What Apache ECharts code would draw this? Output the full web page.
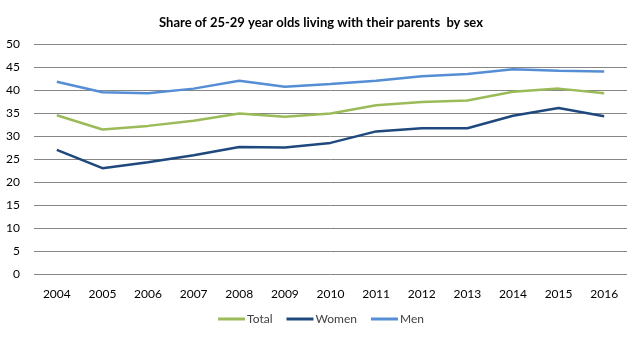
<!DOCTYPE html>
<html>
<head>
<meta charset="utf-8">
<script src="https://cdn.jsdelivr.net/npm/echarts@6/dist/echarts.min.js"></script>
<style>
  html, body { margin: 0; padding: 0; background: #fff; }
  #chart { width: 642px; height: 340px; }
</style>
</head>
<body>
<div id="chart"></div>
<script>
// Years on the category axis
const years = ['2004','2005','2006','2007','2008','2009','2010','2011','2012','2013','2014','2015','2016'];

// Share (%) of 25-29 year olds living with their parents
const totalShare = [34.5, 31.4, 32.2, 33.3, 34.9, 34.2, 34.9, 36.7, 37.4, 37.7, 39.6, 40.3, 39.3];
const womenShare = [27.0, 23.0, 24.3, 25.8, 27.6, 27.5, 28.5, 31.0, 31.7, 31.7, 34.4, 36.1, 34.3];
const menShare   = [41.8, 39.5, 39.3, 40.3, 42.0, 40.7, 41.3, 42.0, 43.0, 43.5, 44.5, 44.2, 44.0];

const seriesNames = ['Total', 'Women', 'Men'];
const seriesColors = ['#9BBB59', '#1F497D', '#558ED5'];
const seriesData = [totalShare, womenShare, menShare];

const font = 'Lato, "Open Sans", sans-serif';

const chart = echarts.init(document.getElementById('chart'), null, { renderer: 'canvas' });
chart.setOption({
  animation: false,
  textStyle: { fontFamily: font },
  title: {
    text: 'Share of 25-29 year olds living with their parents  by sex',
    left: 'center',
    top: 11,
    textStyle: { fontFamily: font, fontSize: 13, fontWeight: 'bold', color: '#000' }
  },
  legend: {
    bottom: 10,
    left: 'center',
    itemWidth: 27,
    itemHeight: 3,
    itemGap: 14,
    icon: 'rect',
    textStyle: { fontFamily: font, fontSize: 12, color: '#404040', padding: [0, 0, 0, -3] },
    data: seriesNames
  },
  grid: { left: 34, right: 15, top: 44, bottom: 66 },
  xAxis: {
    type: 'category',
    data: years,
    boundaryGap: true,
    axisLine: { show: false },
    axisTick: { show: false },
    axisLabel: { color: '#000', fontSize: 12, fontFamily: font, margin: 14 }
  },
  yAxis: {
    type: 'value',
    min: 0,
    max: 50,
    interval: 5,
    axisLine: { show: false },
    axisTick: { show: false },
    axisLabel: { color: '#000', fontSize: 12, fontFamily: font, margin: 14 },
    splitLine: { lineStyle: { color: '#868686', width: 1 } }
  },
  series: seriesNames.map((name, i) => ({
    name: name,
    type: 'line',
    data: seriesData[i],
    symbol: 'none',
    color: seriesColors[i],
    lineStyle: { width: 2.5, color: seriesColors[i] }
  }))
});
</script>
</body>
</html>
